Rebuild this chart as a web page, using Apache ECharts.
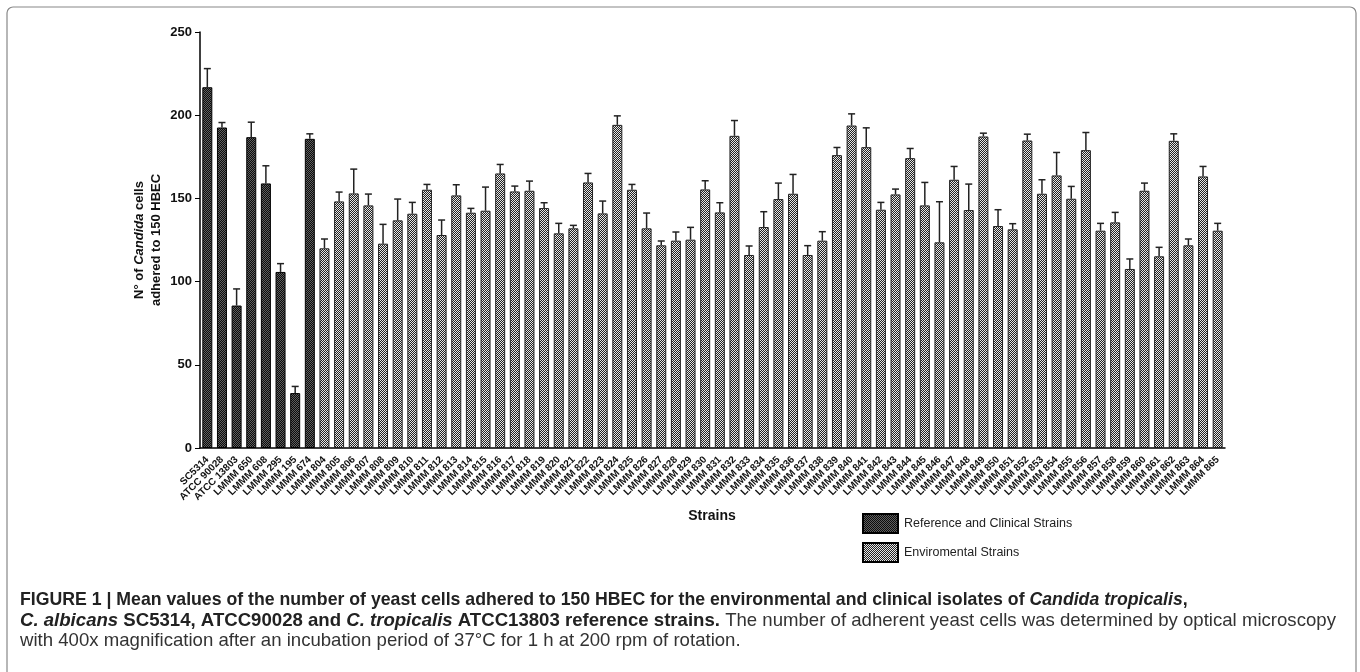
<!DOCTYPE html>
<html><head><meta charset="utf-8">
<script src="https://cdn.jsdelivr.net/npm/echarts@6/dist/echarts.min.js"></script>
<style>html,body{margin:0;padding:0;background:#fff}#c{width:1360px;height:672px}</style>
</head><body><div id="c"></div>
<script>
const categories = ['SC5314','ATCC 90028','ATCC 13803','LMMM 650','LMMM 608','LMMM 295','LMMM 195','LMMM 674',
 'LMMM 804','LMMM 805','LMMM 806','LMMM 807','LMMM 808','LMMM 809','LMMM 810','LMMM 811','LMMM 812','LMMM 813',
 'LMMM 814','LMMM 815','LMMM 816','LMMM 817','LMMM 818','LMMM 819','LMMM 820','LMMM 821','LMMM 822','LMMM 823',
 'LMMM 824','LMMM 825','LMMM 826','LMMM 827','LMMM 828','LMMM 829','LMMM 830','LMMM 831','LMMM 832','LMMM 833',
 'LMMM 834','LMMM 835','LMMM 836','LMMM 837','LMMM 838','LMMM 839','LMMM 840','LMMM 841','LMMM 842','LMMM 843',
 'LMMM 844','LMMM 845','LMMM 846','LMMM 847','LMMM 848','LMMM 849','LMMM 850','LMMM 851','LMMM 852','LMMM 853',
 'LMMM 854','LMMM 855','LMMM 856','LMMM 857','LMMM 858','LMMM 859','LMMM 860','LMMM 861','LMMM 862','LMMM 863',
 'LMMM 864','LMMM 865'];
const referenceCount = 8;
const means = [216.8,192.6,85.6,186.8,159.0,105.8,33.0,185.8,
 120.0,148.2,153.0,145.8,122.8,136.8,140.8,155.2,128.0,151.8,
 141.4,142.6,165.0,154.2,154.6,144.2,129.0,132.0,159.6,141.0,
 194.2,155.2,132.0,121.8,124.6,125.2,155.4,141.6,187.6,116.0,
 132.8,149.6,152.8,116.0,124.6,176.0,193.8,180.8,143.2,152.4,
 174.2,145.8,123.6,161.2,143.0,187.2,133.4,131.4,184.8,152.8,
 163.8,149.8,179.0,130.6,135.6,107.6,154.6,115.2,184.6,121.8,
 163.2,130.6];
const errors = [11.2,3.0,10.0,9.0,10.6,5.0,4.0,3.0,
 5.6,5.6,14.6,6.8,11.6,12.8,6.8,3.2,9.0,6.4,
 2.6,14.2,5.4,3.2,5.8,3.2,6.0,1.8,5.4,7.4,
 5.4,3.2,9.2,2.6,5.2,7.4,5.2,5.8,9.2,5.4,
 9.2,9.6,11.6,5.6,5.4,4.6,7.0,11.6,4.4,3.2,
 5.8,13.8,24.4,8.0,15.6,2.0,9.8,3.4,3.8,8.4,
 13.8,7.4,10.6,4.4,6.0,6.0,4.6,5.4,4.2,3.8,
 6.0,4.4];
const seriesNames = ['Reference and Clinical Strains','Enviromental Strains'];

function pattern(a, b) {
  const c = document.createElement('canvas');
  c.width = 2; c.height = 2;
  const g = c.getContext('2d');
  g.fillStyle = a; g.fillRect(0, 0, 2, 2);
  g.fillStyle = b; g.fillRect(0, 0, 1, 1); g.fillRect(1, 1, 1, 1);
  return c;
}
const darkFill = { image: pattern('#0c0c0c', '#5e5e5e'), repeat: 'repeat' };
const lightFill = { image: pattern('#222', '#e6e6e6'), repeat: 'repeat' };

const refData = means.map((v, i) => i < referenceCount ? v : '-');
const envData = means.map((v, i) => i >= referenceCount ? v : '-');
const errData = means.map((v, i) => [i, v, v + errors[i]]);

const chart = echarts.init(document.getElementById('c'), null, { renderer: 'canvas' });
const FONT = 'Arial, "Liberation Sans", sans-serif';
const NARROW = '"Liberation Sans Narrow", Arial, sans-serif';
const CAPB = 17.7;
const CAPB2 = 18.6;
const CAPN = 18.6;
chart.setOption({
  animation: false,
  backgroundColor: '#fff',
  grid: { left: 200, right: 135, top: 32, bottom: 224, containLabel: false },
  legend: {
    data: seriesNames, orient: 'vertical', left: 857, top: 508, icon: 'rect',
    itemWidth: 35, itemHeight: 19, itemGap: 8,
    itemStyle: { borderColor: '#000', borderWidth: 2 },
    textStyle: { fontFamily: FONT, fontSize: 12.5, color: '#222', padding: [0, 0, 0, 1] },
    selectedMode: false
  },
  xAxis: {
    type: 'category', data: categories,
    axisLine: { lineStyle: { color: '#000', width: 1.5 } },
    axisTick: { alignWithLabel: true, length: 5, lineStyle: { color: '#000', width: 1 } },
    axisLabel: { rotate: 45, interval: 0, fontSize: 10, fontWeight: 'bold', color: '#111', fontFamily: FONT, margin: 10 }
  },
  yAxis: {
    type: 'value', min: 0, max: 250, interval: 50,
    axisLine: { show: true, lineStyle: { color: '#000', width: 1.5 } },
    axisTick: { show: true, length: 5, lineStyle: { color: '#000', width: 1 } },
    axisLabel: { fontSize: 13, fontWeight: 'bold', color: '#111', fontFamily: FONT, margin: 8 },
    splitLine: { show: false }
  },
  series: [
    { name: seriesNames[0], type: 'bar', data: refData, barWidth: 10, barGap: '-100%',
      itemStyle: { color: darkFill, borderColor: '#000', borderWidth: 1 } },
    { name: seriesNames[1], type: 'bar', data: envData, barWidth: 10, barGap: '-100%',
      itemStyle: { color: lightFill, borderColor: '#222', borderWidth: 1 } },
    { name: 'err', type: 'custom', data: errData, encode: { x: 0, y: [1, 2] }, z: 5,
      renderItem: function (params, api) {
        const x = api.value(0);
        const lo = api.coord([x, api.value(1)]);
        const hi = api.coord([x, api.value(2)]);
        return { type: 'group', children: [
          { type: 'line', shape: { x1: lo[0], y1: lo[1], x2: hi[0], y2: hi[1] }, style: { stroke: '#222', lineWidth: 1.5 } },
          { type: 'line', shape: { x1: hi[0] - 3.5, y1: hi[1], x2: hi[0] + 3.5, y2: hi[1] }, style: { stroke: '#222', lineWidth: 1.5 } }
        ]};
      } }
  ],
  graphic: [
    { type: 'rect', shape: { x: 7, y: 7, width: 1349, height: 720, r: 6 }, style: { fill: 'none', stroke: '#888', lineWidth: 1.2 }, silent: true },
    { type: 'text', x: 148, y: 240, rotation: Math.PI / 2,
      style: { text: '{b|N° of }{i|Candida}{b| cells}\n{b|adhered to 150 HBEC}', align: 'center', verticalAlign: 'middle',
        rich: { b: { fontFamily: FONT, fontSize: 13, fontWeight: 'bold', fill: '#111', lineHeight: 17 },
                i: { fontFamily: FONT, fontSize: 13, fontWeight: 'bold', fontStyle: 'italic', fill: '#111', lineHeight: 17 } } } },
    { type: 'text', x: 712, y: 516,
      style: { text: 'Strains', align: 'center', verticalAlign: 'middle', fontFamily: FONT, fontSize: 14, fontWeight: 'bold', fill: '#111' } },
    { type: 'text', x: 20, y: 600,
      style: { text: '{b|FIGURE 1 | Mean values of the number of yeast cells adhered to 150 HBEC for the environmental and clinical isolates of }{bi|Candida tropicalis}{b|,}',
        verticalAlign: 'middle',
        rich: { b: { fontFamily: NARROW, fontSize: CAPB, fontWeight: 'bold', fill: '#222' },
                bi: { fontFamily: NARROW, fontSize: CAPB, fontWeight: 'bold', fontStyle: 'italic', fill: '#222' } } } },
    { type: 'text', x: 20, y: 621,
      style: { text: '{bi|C. albicans}{b| SC5314, ATCC90028 and }{bi|C. tropicalis}{b| ATCC13803 reference strains.}{n| The number of adherent yeast cells was determined by optical microscopy}',
        verticalAlign: 'middle',
        rich: { b: { fontFamily: NARROW, fontSize: CAPB2, fontWeight: 'bold', fill: '#222' },
                bi: { fontFamily: NARROW, fontSize: CAPB2, fontWeight: 'bold', fontStyle: 'italic', fill: '#222' },
                n: { fontFamily: NARROW, fontSize: CAPN, fill: '#333' } } } },
    { type: 'text', x: 20, y: 641,
      style: { text: 'with 400x magnification after an incubation period of 37°C for 1 h at 200 rpm of rotation.',
        verticalAlign: 'middle', fontFamily: NARROW, fontSize: CAPN, fill: '#333' } }
  ]
});
</script>
</body></html>
